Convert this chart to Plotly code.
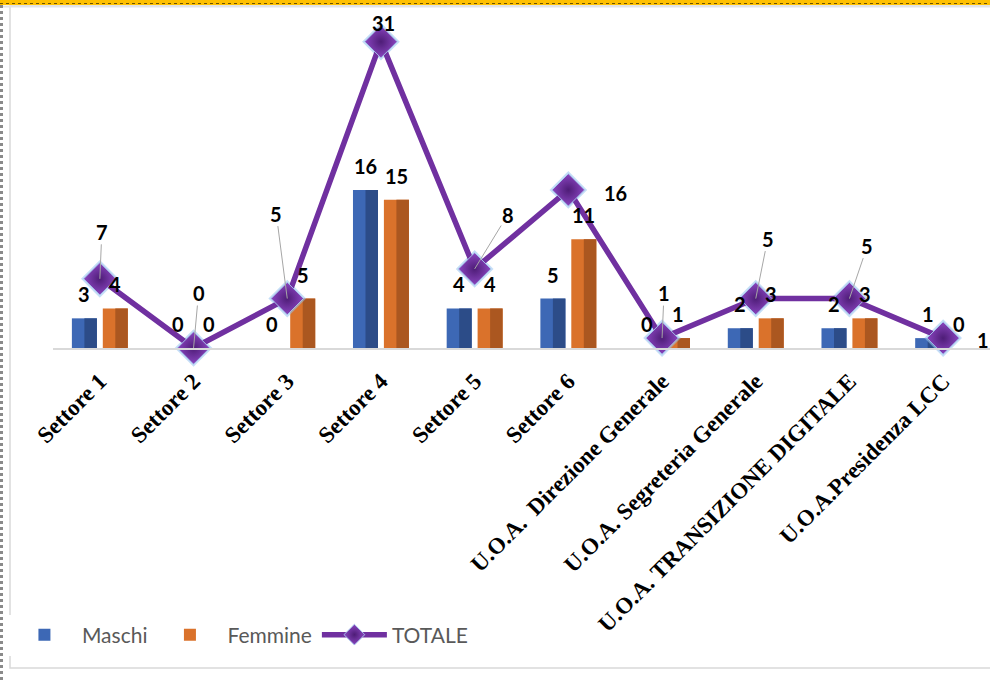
import plotly.graph_objects as go

categories = ["Settore 1", "Settore 2", "Settore 3", "Settore 4", "Settore 5", "Settore 6",
              "U.O.A.\u00a0 Direzione Generale", "U.O.A. Segreteria Generale",
              "U.O.A. TRANSIZIONE DIGITALE", "U.O.A.Presidenza LCC"]
maschi = [3, 0, 0, 16, 4, 5, 0, 2, 2, 1]
femmine = [4, 0, 5, 15, 4, 11, 1, 3, 3, 0]
totale = [7, 0, 5, 31, 8, 16, 1, 5, 5, 1]

# label placement for TOTALE (pixel offsets from the marker, leader line yes/no)
tot_ax = [2, 5, -11, 3, 33, 47, 2, 12, 18, 40]
tot_ay = [-47, -55, -85, -19, -54, 3, -45, -60, -53, 2]
tot_leader = [True, True, True, False, True, False, True, True, True, False]

W, H = 990, 680
L, R, T, B = 53, 0, 12, 332
pw, ph = W - L - R, H - T - B

def px_x(p):
    return (p - L) / pw

def px_y(p):
    return (H - B - p) / ph

lab_font = dict(family="Lato", size=20, color="#000000", weight="bold")

BW = 0.267      # bar width in category units
CEN = 0.165     # bar centre distance from category centre

fig = go.Figure()
fig.add_trace(go.Bar(x=categories, y=maschi, name="Maschi", offset=-CEN - BW / 2, width=BW,
                     marker=dict(color="#3D68B5", line=dict(width=0))))
fig.add_trace(go.Bar(x=categories, y=maschi, showlegend=False, hoverinfo="skip",
                     offset=-CEN, width=BW / 2, marker=dict(color="#2C4C88", line=dict(width=0))))
fig.add_trace(go.Bar(x=categories, y=femmine, name="Femmine", offset=CEN - BW / 2, width=BW,
                     marker=dict(color="#DA722B", line=dict(width=0))))
fig.add_trace(go.Bar(x=categories, y=femmine, showlegend=False, hoverinfo="skip",
                     offset=CEN, width=BW / 2, marker=dict(color="#AB5720", line=dict(width=0))))
# glow under markers
fig.add_trace(go.Scatter(x=categories, y=totale, mode="markers", showlegend=False, hoverinfo="skip",
                         marker=dict(symbol="diamond", size=29, color="rgba(150,195,240,0.55)"),
                         cliponaxis=False))
fig.add_trace(go.Scatter(x=categories, y=totale, name="TOTALE", mode="lines+markers",
                         line=dict(color="#7030A0", width=5.5),
                         marker=dict(symbol="diamond", size=25, color="#8A45C0",
                                     gradient=dict(type="radial", color="#4E1D77"),
                                     line=dict(color="rgba(170,205,240,0.9)", width=1)),
                         cliponaxis=False))

ann = []
off = 15.5
for i, c in enumerate(categories):
    ann.append(dict(x=c, y=maschi[i], text=str(maschi[i]), showarrow=False, xshift=-off, yshift=24,
                    font=lab_font, xanchor="center", yanchor="middle"))
    ann.append(dict(x=c, y=femmine[i], text=str(femmine[i]), showarrow=False, xshift=off, yshift=24,
                    font=lab_font, xanchor="center", yanchor="middle"))
    ann.append(dict(x=c, y=totale[i], text=str(totale[i]), showarrow=True, ax=tot_ax[i], ay=tot_ay[i],
                    arrowhead=0, arrowwidth=1, standoff=0,
                    arrowcolor="#A6A6A6" if tot_leader[i] else "rgba(0,0,0,0)",
                    font=lab_font, borderpad=0))

shapes = [
    # chart border
    dict(type="rect", xref="paper", yref="paper", x0=px_x(10), x1=px_x(1000), y0=px_y(668), y1=px_y(6),
         line=dict(color="#D9D9D9", width=1.5), fillcolor="rgba(0,0,0,0)", layer="below"),
    # top orange strip
    dict(type="rect", xref="paper", yref="paper", x0=px_x(0), x1=px_x(990), y0=px_y(5), y1=px_y(0),
         line=dict(width=0), fillcolor="#FFC000"),
    dict(type="line", xref="paper", yref="paper", x0=px_x(0), x1=px_x(990), y0=px_y(3.5), y1=px_y(3.5),
         line=dict(color="#6B5200", width=1, dash="dot")),
    dict(type="line", xref="paper", yref="paper", x0=px_x(3), x1=px_x(990), y0=px_y(6.5), y1=px_y(6.5),
         line=dict(color="#E3E3E3", width=2)),
    # left dotted strip
    dict(type="line", xref="paper", yref="paper", x0=px_x(1.5), x1=px_x(1.5), y0=px_y(680), y1=px_y(5),
         line=dict(color="#8A8A8A", width=3, dash="dot")),
]

fig.update_layout(
    width=W, height=H,
    margin=dict(l=L, r=R, t=T, b=B, autoexpand=False),
    paper_bgcolor="white", plot_bgcolor="white",
    barmode="overlay",
    xaxis=dict(showline=True, linecolor="#D9D9D9", linewidth=1.5, showgrid=False, zeroline=False,
               range=[-0.5, len(categories) - 0.5],
               tickangle=-45, ticks="", ticklabelstandoff=9, automargin=False,
               tickfont=dict(family="Liberation Serif", size=23, color="#000000", weight="bold")),
    yaxis=dict(range=[0, 34], visible=False, showgrid=False, zeroline=False, automargin=False),
    legend=dict(orientation="h", xref="container", yref="container", x=0.007, y=1 - 635 / 680,
                xanchor="left", yanchor="middle", font=dict(family="Lato", size=21, color="#595959"),
                itemwidth=65, traceorder="normal"),
    annotations=ann,
    shapes=shapes,
    showlegend=True,
)

fig.write_html("out.html", config={"responsive": False, "displayModeBar": False},
               post_script="document.body.style.margin='0';document.body.style.overflow='hidden';")
